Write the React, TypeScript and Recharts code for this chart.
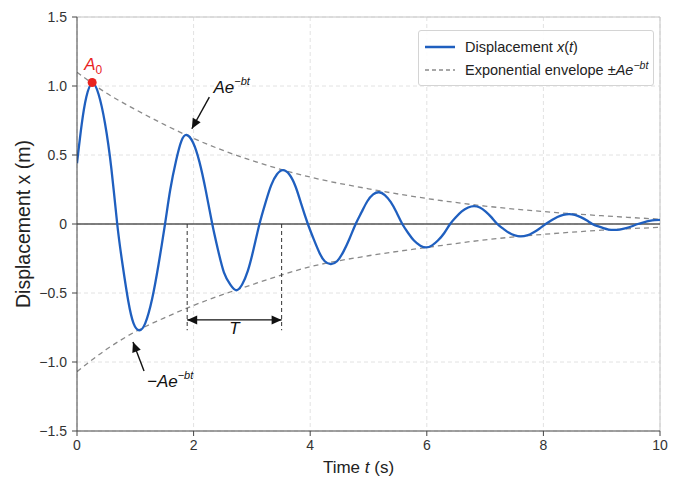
import React from 'react'
import {
  LineChart,
  Line,
  XAxis,
  YAxis,
  CartesianGrid,
  ReferenceLine,
  ReferenceDot,
  Legend,
} from 'recharts'

// displacement (peaks, zero crossings and points between)
const timeS = [
  0, 0.08, 0.16, 0.26, 0.37, 0.48, 0.59, 0.69,
  0.78, 0.88, 0.97, 1.065, 1.17, 1.29, 1.4, 1.51,
  1.6, 1.7, 1.79, 1.88, 1.99, 2.1, 2.21, 2.32,
  2.42, 2.52, 2.63, 2.73, 2.83, 2.93, 3.03, 3.13,
  3.23, 3.33, 3.43, 3.53, 3.64, 3.75, 3.85, 3.96,
  4.06, 4.16, 4.25, 4.35, 4.46, 4.57, 4.67, 4.78,
  4.88, 4.98, 5.08, 5.18, 5.28, 5.38, 5.48, 5.58,
  5.68, 5.78, 5.89, 5.99, 6.09, 6.19, 6.3, 6.4,
  6.5, 6.6, 6.71, 6.81, 6.91, 7.01, 7.11, 7.21,
  7.31, 7.41, 7.51, 7.61, 7.72, 7.82, 7.93, 8.04,
  8.14, 8.24, 8.34, 8.44, 8.54, 8.64, 8.74, 8.84,
  8.93, 9.03, 9.12, 9.21, 9.31, 9.42, 9.52, 9.62,
  9.72, 9.82, 9.91, 10,
]
const displacementM = [
  0.44, 0.72, 0.92, 1.02, 0.94, 0.73, 0.4, 0,
  -0.29, -0.56, -0.72, -0.77, -0.72, -0.54, -0.29, 0,
  0.25, 0.46, 0.6, 0.645, 0.59, 0.45, 0.24, 0,
  -0.19, -0.35, -0.44, -0.48, -0.44, -0.34, -0.18, 0,
  0.15, 0.28, 0.36, 0.39, 0.36, 0.27, 0.14, 0,
  -0.11, -0.21, -0.27, -0.29, -0.27, -0.2, -0.11, 0,
  0.085, 0.165, 0.215, 0.23, 0.21, 0.16, 0.085, 0,
  -0.065, -0.12, -0.157, -0.17, -0.155, -0.12, -0.065, 0,
  0.05, 0.092, 0.12, 0.13, 0.12, 0.09, 0.048, 0,
  -0.034, -0.064, -0.083, -0.09, -0.083, -0.063, -0.034, 0,
  0.027, 0.051, 0.066, 0.072, 0.066, 0.05, 0.027, 0,
  -0.016, -0.03, -0.04, -0.043, -0.04, -0.03, -0.016, 0,
  0.012, 0.022, 0.028, 0.03,
]

// envelope
const envTime = [0, 0.5, 1, 1.5, 2, 3, 4, 5, 6, 7, 8, 9, 10]
const envUpper = [1.1, 0.95, 0.83, 0.72, 0.62, 0.46, 0.34, 0.255, 0.185, 0.13, 0.09, 0.06, 0.035]
const envLower = [-1.07, -0.91, -0.78, -0.68, -0.59, -0.44, -0.31, -0.23, -0.17, -0.115, -0.075, -0.045, -0.024]

const xTicks = [0, 2, 4, 6, 8, 10]
const yTicks = [-1.5, -1, -0.5, 0, 0.5, 1, 1.5]

// annotation anchors (data units)
const peakA0 = { t: 0.26, x: 1.025 }
const periodStart = 1.89
const periodEnd = 3.51

const FONT = '"Liberation Sans", Arial, Helvetica, sans-serif'
const BLUE = '#1f5fbf'
const ENV = '#8a8a8a'

const dispData = timeS.map((t, i) => ({ t, x: displacementM[i] }))
const upperData = envTime.map((t, i) => ({ t, x: envUpper[i] }))
const lowerData = envTime.map((t, i) => ({ t, x: envLower[i] }))

const fmtY = (v: number) => (v === 0 ? '0' : (v < 0 ? '\u2212' : '') + Math.abs(v).toFixed(1))

const arrow = (both: boolean) => (props: any) => {
  const { x1, y1, x2, y2 } = props
  const head = (tx: number, ty: number, fx: number, fy: number) => {
    const a = Math.atan2(ty - fy, tx - fx)
    const L = 10
    const W = 4.5
    const bx = tx - L * Math.cos(a)
    const by = ty - L * Math.sin(a)
    const px = -Math.sin(a) * W
    const py = Math.cos(a) * W
    return `${tx},${ty} ${bx + px},${by + py} ${bx - px},${by - py}`
  }
  return (
    <g>
      <line x1={x1} y1={y1} x2={x2} y2={y2} stroke="#111" strokeWidth={1.4} />
      <polygon points={head(x2, y2, x1, y1)} fill="#111" />
      {both && <polygon points={head(x1, y1, x2, y2)} fill="#111" />}
    </g>
  )
}

const EnvLabel = (neg: boolean) => (props: any) => (
  <text x={props.cx} y={props.cy} fontFamily={FONT} fontSize={17} fill="#111" fontStyle="italic">
    {neg ? '\u2212' : ''}Ae
    <tspan dy={-8} fontSize={11}>
      {'\u2212bt'}
    </tspan>
  </text>
)

const A0Dot = (props: any) => (
  <g>
    <circle cx={props.cx} cy={props.cy} r={4.5} fill="#e8231f" />
    <text x={props.cx - 8} y={props.cy - 13} fontFamily={FONT} fontSize={17} fill="#e8231f" fontStyle="italic">
      A
      <tspan dy={4} fontSize={12} fontStyle="normal">
        0
      </tspan>
    </text>
  </g>
)

const TLabel = (props: any) => (
  <text x={props.cx} y={props.cy} fontFamily={FONT} fontSize={17} fill="#111" fontStyle="italic" textAnchor="middle">
    T
  </text>
)

const XTitle = (props: any) => {
  const vb = props.viewBox
  return (
    <text x={vb.x + vb.width / 2 - 10} y={vb.y + 42} fontFamily={FONT} fontSize={17} fill="#222" textAnchor="middle">
      Time <tspan fontStyle="italic">t</tspan> (s)
    </text>
  )
}

const YTitle = (props: any) => {
  const vb = props.viewBox
  const cx = 23
  const cy = vb.y + vb.height / 2
  return (
    <text x={cx} y={cy} fontFamily={FONT} fontSize={19.5} fill="#222" textAnchor="middle" transform={`rotate(-90 ${cx} ${cy})`} dominantBaseline="central">
      Displacement x (m)
    </text>
  )
}

const LegendBox = () => (
  <div
    style={{
      width: 236,
      height: 56,
      border: '1px solid #d4d4d4',
      borderRadius: 3,
      background: 'rgba(255,255,255,0.9)',
      boxSizing: 'border-box',
    }}
  >
    <svg width={234} height={54} style={{ display: 'block' }}>
      <line x1={6} y1={16} x2={36} y2={16} stroke={BLUE} strokeWidth={2.5} />
      <text x={46} y={21} fontFamily={FONT} fontSize={14.5} fill="#222">
        Displacement <tspan fontStyle="italic">x</tspan>(<tspan fontStyle="italic">t</tspan>)
      </text>
      <line x1={6} y1={39} x2={36} y2={39} stroke={ENV} strokeWidth={1.3} strokeDasharray="4 3" />
      <text x={46} y={44} fontFamily={FONT} fontSize={14.5} fill="#222">
        Exponential envelope {'\u00b1'}
        <tspan fontStyle="italic">Ae</tspan>
        <tspan dy={-6} fontSize={10.5} fontStyle="italic">
          {'\u2212bt'}
        </tspan>
      </text>
    </svg>
  </div>
)

export default function App() {
  return (
    <div style={{ position: 'absolute', left: 0, top: 0, background: '#fff' }}>
      <LineChart width={675} height={482} margin={{ top: 17, right: 15, bottom: 21, left: 17 }}>
        <CartesianGrid stroke="#e2e2e2" strokeDasharray="4 3" />
        <XAxis
          type="number"
          dataKey="t"
          domain={[0, 10]}
          ticks={xTicks}
          allowDataOverflow
          height={30}
          tickSize={5}
          tickMargin={4}
          tick={{ fontFamily: FONT, fontSize: 14, fill: '#333' }}
          stroke="#444"
          label={XTitle}
        />
        <YAxis
          type="number"
          dataKey="x"
          domain={[-1.5, 1.5]}
          ticks={yTicks}
          allowDataOverflow
          width={60}
          tickSize={5}
          tickMargin={5}
          tickFormatter={fmtY}
          tick={{ fontFamily: FONT, fontSize: 14, fill: '#333' }}
          stroke="#444"
          label={YTitle}
        />
        <ReferenceLine y={1.5} stroke="#c4c4c4" />
        <ReferenceLine x={10} stroke="#c4c4c4" />
        <ReferenceLine y={0} stroke="#555" strokeWidth={1.5} />

        <Line data={upperData} dataKey="x" type="monotone" stroke={ENV} strokeWidth={1.3} strokeDasharray="5 4" dot={false} isAnimationActive={false} legendType="none" />
        <Line data={lowerData} dataKey="x" type="monotone" stroke={ENV} strokeWidth={1.3} strokeDasharray="5 4" dot={false} isAnimationActive={false} legendType="none" />
        <Line data={dispData} dataKey="x" type="natural" stroke={BLUE} strokeWidth={2.3} dot={false} isAnimationActive={false} />

        {/* period bracket */}
        <ReferenceLine segment={[{ x: periodStart, y: 0 }, { x: periodStart, y: -0.77 }]} stroke="#333" strokeDasharray="4 3" />
        <ReferenceLine segment={[{ x: periodEnd, y: 0 }, { x: periodEnd, y: -0.77 }]} stroke="#333" strokeDasharray="4 3" />
        <ReferenceLine segment={[{ x: periodStart, y: -0.695 }, { x: periodEnd, y: -0.695 }]} shape={arrow(true)} />
        <ReferenceDot x={(periodStart + periodEnd) / 2} y={-0.8} r={0} shape={TLabel} />

        {/* envelope callouts */}
        <ReferenceLine segment={[{ x: 2.27, y: 0.92 }, { x: 1.97, y: 0.69 }]} shape={arrow(false)} />
        <ReferenceDot x={2.34} y={0.95} r={0} shape={EnvLabel(false)} />
        <ReferenceLine segment={[{ x: 1.15, y: -1.065 }, { x: 0.96, y: -0.855 }]} shape={arrow(false)} />
        <ReferenceDot x={1.2} y={-1.18} r={0} shape={EnvLabel(true)} />

        <ReferenceDot x={peakA0.t} y={peakA0.x} r={4.5} shape={A0Dot} />

        <Legend
          layout="vertical"
          align="center"
          verticalAlign="middle"
          content={LegendBox}
          wrapperStyle={{ left: 418, top: 30, width: 236, height: 56 }}
        />
      </LineChart>
    </div>
  )
}
